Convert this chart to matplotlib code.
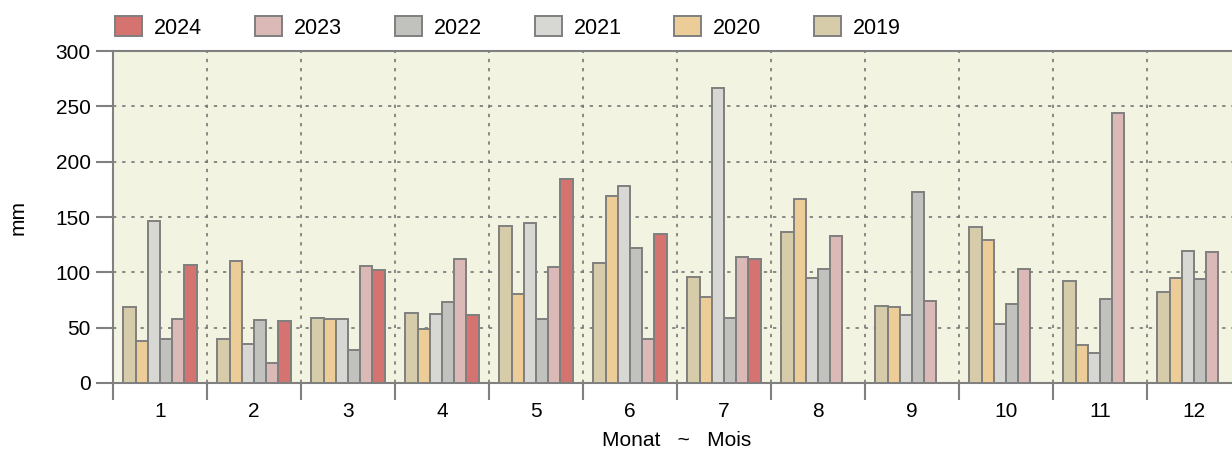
import numpy as np
import matplotlib.pyplot as plt
from matplotlib.patches import Patch

plt.rcParams["font.family"] = ["Liberation Sans", "DejaVu Sans"]

months = np.arange(1, 13)
years = ["2019", "2020", "2021", "2022", "2023", "2024"]
colors = {
    "2024": "#d4736f",
    "2023": "#dbb9b7",
    "2022": "#c1c1bd",
    "2021": "#d7d7d3",
    "2020": "#edcd97",
    "2019": "#d7ccaa",
}

rain_2019 = [69, 40, 59, 63, 142, 108, 96, 136, 70, 141, 92, 82]
rain_2020 = [38, 110, 58, 49, 80, 169, 78, 166, 69, 129, 34, 95]
rain_2021 = [146, 35, 58, 62, 145, 178, 267, 95, 61, 53, 27, 119]
rain_2022 = [40, 57, 30, 73, 58, 122, 59, 103, 173, 71, 76, 94]
rain_2023 = [58, 18, 106, 112, 105, 40, 114, 133, 74, 103, 244, 118]
rain_2024 = [107, 56, 102, 61, 184, 135, 112]

series = {
    "2019": rain_2019, "2020": rain_2020, "2021": rain_2021,
    "2022": rain_2022, "2023": rain_2023, "2024": rain_2024,
}

W, H = 1232, 450
fig = plt.figure(figsize=(W / 100, H / 100), dpi=100)
ax = fig.add_axes([113 / W, 1 - 383 / H, 1128 / W, 332 / H])
ax.set_facecolor("#f3f3e1")

bw = 0.13
for i, y in enumerate(years):
    vals = series[y]
    x = months[:len(vals)] + (i - 2.5) * bw
    ax.bar(x, vals, width=bw, color=colors[y], edgecolor="#7f7f7f",
           linewidth=1.4, zorder=3)

ax.set_xlim(0.5, 12.5)
ax.set_ylim(0, 300)
ax.set_yticks(np.arange(0, 301, 50))
ax.set_xticks(np.arange(0.5, 12.6, 1))
ax.set_xticklabels([])
ax.set_xticks(months, minor=True)
ax.set_xticklabels([str(m) for m in months], minor=True)
ax.tick_params(axis="x", which="major", length=12, width=1.5, color="#808080")
ax.tick_params(axis="x", which="minor", length=0, pad=14, labelsize=15)
ax.tick_params(axis="y", length=12, width=1.5, color="#808080", labelsize=15, pad=4)

ax.grid(True, which="major", linestyle=(0, (2, 3.5)), color="#777777", linewidth=1.2, zorder=1)
for s in ["left", "top", "bottom", "right"]:
    ax.spines[s].set_color("#808080")
    ax.spines[s].set_linewidth(1.5)

ax.set_ylabel("mm", fontsize=15, va="center")
ax.yaxis.set_label_coords(-95 / 1128, 0.5)
ax.set_xlabel("Monat   ~   Mois", fontsize=15, va="center")
ax.xaxis.set_label_coords(0.5, -57 / 332)

handles = [Patch(facecolor=colors[y], edgecolor="#7f7f7f", linewidth=1.4, label=y)
           for y in reversed(years)]
fig.legend(handles=handles, loc="upper left", bbox_to_anchor=(96 / W, 1 + 3 / H),
           ncol=6, frameon=False, fontsize=15.5, handlelength=1.25, handleheight=1.05,
           handletextpad=0.55, columnspacing=2.46)

fig.savefig("out.png", dpi=100)
